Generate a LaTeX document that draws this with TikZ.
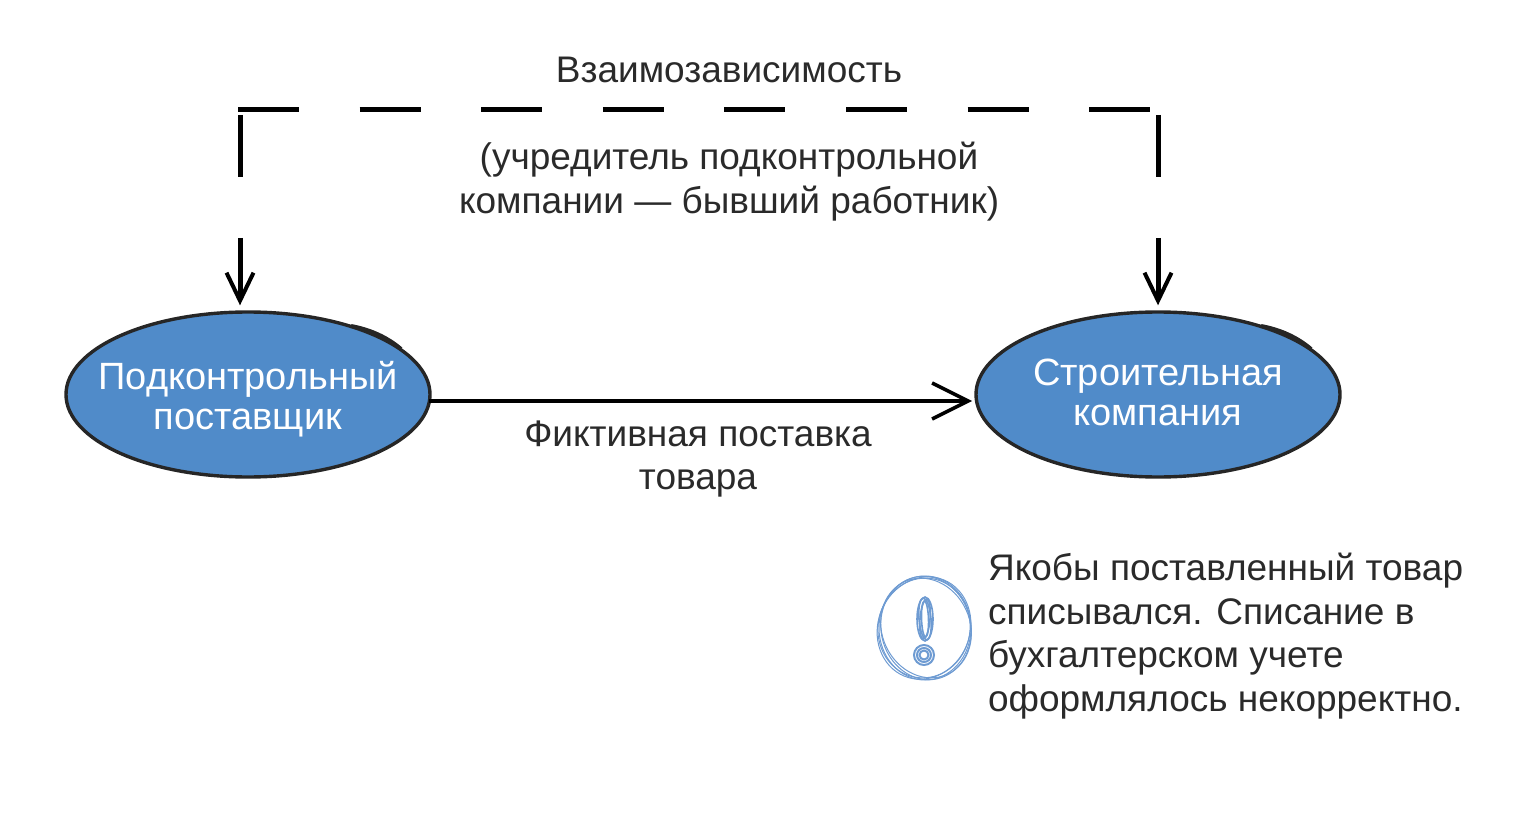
\documentclass[tikz,border=0pt]{standalone}
\usepackage{fontspec}
\setmainfont{Liberation Sans}
\usetikzlibrary{arrows.meta, shapes.geometric, positioning}
\definecolor{firmblue}{HTML}{508BC9}
\definecolor{inkgray}{HTML}{2A2A2A}
\definecolor{sketchblue}{HTML}{6E9BD2}
\tikzset{
    firm/.style = {ellipse, draw=black!85, line width=3.4pt, fill=firmblue, minimum width=364pt, minimum height=165pt, inner sep=0pt},
    firm label/.style = {text=white, align=center, font=\fontsize{38}{40}\selectfont},
    caption/.style = {text=inkgray, align=center, font=\fontsize{37}{43.7}\selectfont},
    link/.style = {line width=5pt, black},
    link dash/.style = {link, dash pattern=on 61pt off 60.6pt},
    barb/.style = {-{Straight Barb[length=28pt, width=27pt, line width=4pt]}, shorten >=5pt},
    sketch/.style = {draw=sketchblue, line width=1pt}
}
\begin{document}
\begin{tikzpicture}[x=1pt, y=-1pt]
    \useasboundingbox (0, 0) rectangle (1522, 818);

    \node[firm] (supplier) at (248, 394.5) {};
    \node[firm] (company) at (1158, 394.5) {};
    \node[firm label] (supplierlabel) at (248, 399.5) {Подконтрольный\\поставщик};
    \node[firm label] (companylabel) at (1158, 392) {Строительная\\компания};

    % thick stroke on the upper right of each oval
    \draw[line width=4pt, black!85] (351, 326) .. controls (372, 330) and (388, 338) .. (401, 349);
    \draw[line width=4pt, black!85] (1261, 326) .. controls (1282, 330) and (1298, 338) .. (1311, 349);

    \coordinate (cornerl) at (238, 109.5);
    \coordinate (cornerr) at (1150, 109.5);
    \coordinate (leftup) at (240, 115);
    \coordinate (leftmid) at (240, 177);
    \coordinate (leftlow) at (240, 238);
    \coordinate (rightup) at (1158, 115);
    \coordinate (rightmid) at (1158, 177);
    \coordinate (rightlow) at (1158, 238);

    \draw[link dash] (cornerl) -- (cornerr);
    \draw[link] (leftup) -- (leftmid);
    \draw[link] (rightup) -- (rightmid);
    \draw[link, barb] (leftlow) -- (supplier.north -| leftlow);
    \draw[link, barb] (rightlow) -- (company.north -| rightlow);

    \coordinate (supplyfrom) at (429, 401);
    \coordinate (supplyto) at (972, 401);
    \draw[line width=3.5pt, black, -{Straight Barb[length=36pt, width=36pt, line width=3.5pt]}] (supplyfrom) -- (supplyto);

    \node[caption] (depend) at (729, 70) {Взаимозависимость};
    \node[caption] (founder) at (729, 181.5) {(учредитель подконтрольной\\компании — бывший работник)};
    \node[caption] (fake) at (698, 459) {Фиктивная поставка\\товара};
    \node[caption, align=left, anchor=west] (note) at (984.5, 636) {Якобы поставленный товар\\списывался. Списание в\\бухгалтерском учете\\оформлялось некорректно.};

    % hand drawn warning mark
    \foreach \dx/\ang/\rx/\ry in {0/0/46/52, 1/12/45/52, -1/-10/46/50, 1/25/44/51, -1/-22/46/52}
        \draw[sketch] (925+\dx, 628) ellipse[x radius=\rx, y radius=\ry, rotate=\ang];
    \foreach \ang/\rx/\ry in {0/8/22, 5/6/21, -5/5/20, 2/3.5/18}
        \draw[sketch, line width=1.6pt] (925, 619) ellipse[x radius=\rx, y radius=\ry, rotate=\ang];
    \foreach \rad in {10, 7, 4.5}
        \draw[sketch, line width=2pt] (924, 655) circle (\rad);
\end{tikzpicture}
\end{document}
